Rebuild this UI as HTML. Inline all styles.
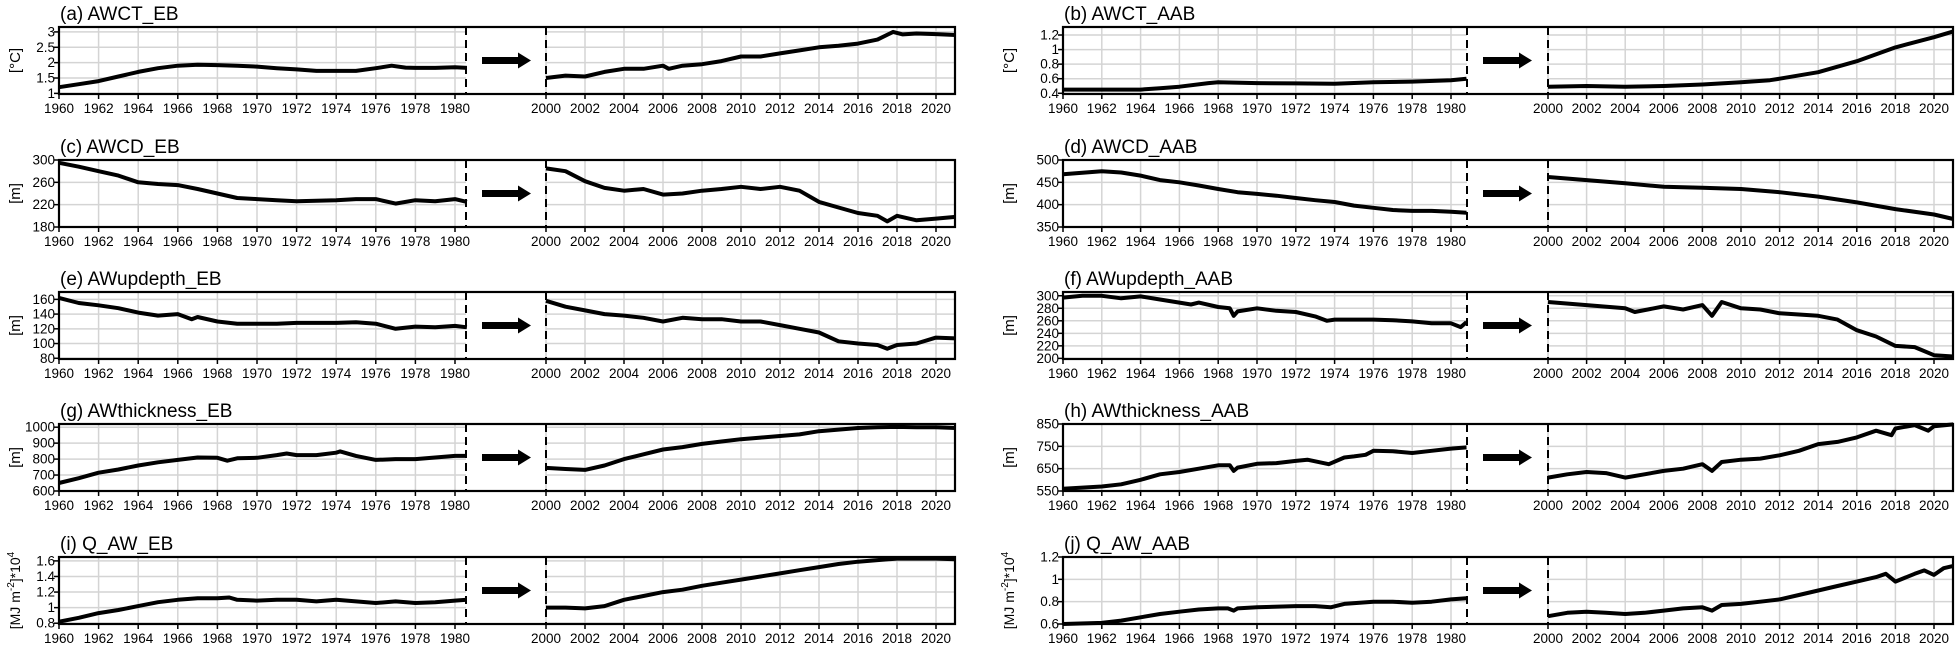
<!DOCTYPE html>
<html><head><meta charset="utf-8"><style>
html,body{margin:0;padding:0;background:#fff;}
svg{display:block;font-family:"Liberation Sans",Arial,sans-serif;}
</style></head><body>
<svg id="fig" width="1956" height="646" viewBox="0 0 1956 646"></svg>
<script>
// ---- data ----
const titles=["(a) AWCT_EB","(b) AWCT_AAB","(c) AWCD_EB","(d) AWCD_AAB","(e) AWupdepth_EB","(f) AWupdepth_AAB","(g) AWthickness_EB","(h) AWthickness_AAB","(i) Q_AW_EB","(j) Q_AW_AAB"];
const yTicks=[[1,1.5,2,2.5,3],[0.4,0.6,0.8,1,1.2],[180,220,260,300],[350,400,450,500],[80,100,120,140,160],[200,220,240,260,280,300],[600,700,800,900,1000],[550,650,750,850],[0.8,1,1.2,1.4,1.6],[0.6,0.8,1,1.2]];
const yMin=[0.98,0.39,180,350,79,199,600,550,0.79,0.6];
const yMax=[3.16,1.31,300,500,170,306,1020,850,1.65,1.2];
const xTicksLeft=[1960,1962,1964,1966,1968,1970,1972,1974,1976,1978,1980];
const xTicksRight=[2000,2002,2004,2006,2008,2010,2012,2014,2016,2018,2020];

const yrsA1=[1960,1961,1962,1963,1964,1965,1966,1967,1968,1969,1970,1971,1972,1973,1974,1975,1976,1976.8,1977.5,1978,1979,1980,1980.6];
const valA1=[1.2,1.3,1.4,1.55,1.7,1.82,1.9,1.93,1.92,1.9,1.87,1.82,1.78,1.73,1.73,1.73,1.82,1.9,1.84,1.83,1.83,1.85,1.83];
const yrsA2=[2000,2001,2002,2003,2004,2005,2006,2006.3,2007,2008,2009,2010,2011,2012,2013,2014,2015,2016,2017,2017.8,2018.3,2019,2020,2021];
const valA2=[1.5,1.58,1.55,1.7,1.8,1.8,1.9,1.8,1.9,1.95,2.05,2.2,2.2,2.3,2.4,2.5,2.55,2.62,2.75,3.0,2.92,2.95,2.93,2.9];

const yrsB1=[1960,1962,1964,1965,1966,1967.5,1968,1970,1972,1974,1976,1978,1980,1980.8];
const valB1=[0.45,0.45,0.45,0.47,0.49,0.54,0.55,0.54,0.535,0.53,0.55,0.56,0.58,0.6];
const yrsB2=[2000,2002,2004,2006,2008,2010,2011.5,2012,2014,2016,2018,2020,2021];
const valB2=[0.49,0.5,0.49,0.5,0.52,0.55,0.58,0.6,0.69,0.84,1.03,1.17,1.25];

const yrsC1=[1960,1961,1962,1963,1964,1965,1966,1967,1968,1969,1970,1971,1972,1973,1974,1975,1976,1977,1978,1979,1980,1980.6];
const valC1=[295,288,280,272,260,257,255,248,240,232,230,228,226,227,228,230,230,222,228,226,230,225];
const yrsC2=[2000,2001,2002,2003,2004,2005,2006,2007,2008,2009,2010,2011,2012,2013,2014,2015,2016,2017,2017.5,2018,2019,2020,2021];
const valC2=[285,280,262,250,245,248,238,240,245,248,252,248,252,245,225,215,205,200,190,200,192,195,198];

const yrsD1=[1960,1962,1963,1964,1965,1966,1967,1968,1969,1970,1971,1972,1973,1974,1975,1976,1977,1978,1979,1980,1980.8];
const valD1=[468,475,472,465,455,450,443,435,428,424,420,415,410,406,398,393,388,386,386,384,382];
const yrsD2=[2000,2002,2004,2006,2008,2010,2012,2014,2016,2018,2020,2021];
const valD2=[462,455,448,440,438,435,428,418,405,390,378,368];

const yrsE1=[1960,1961,1962,1963,1964,1965,1966,1966.7,1967,1968,1969,1970,1971,1972,1973,1974,1975,1976,1977,1978,1979,1980,1980.6];
const valE1=[162,155,152,148,142,138,140,133,136,130,127,127,127,128,128,128,129,127,120,123,122,124,122];
const yrsE2=[2000,2001,2002,2003,2004,2005,2006,2007,2008,2009,2010,2011,2012,2013,2014,2015,2016,2017,2017.5,2018,2019,2020,2021];
const valE2=[158,150,145,140,138,135,130,135,133,133,130,130,125,120,115,103,100,98,93,98,100,108,107];

const yrsF1=[1960,1961,1962,1963,1964,1965,1966,1966.6,1967,1968,1968.6,1968.8,1969,1970,1971,1972,1973,1973.6,1974,1975,1976,1977,1978,1979,1980,1980.5,1980.8];
const valF1=[297,300,300,296,299,294,289,286,289,282,280,268,275,280,276,274,267,260,262,262,262,261,259,256,256,250,258];
const yrsF2=[2000,2002,2004,2004.5,2006,2007,2008,2008.5,2009,2010,2011,2012,2013,2014,2015,2016,2017,2018,2019,2020,2021];
const valF2=[290,285,280,274,283,278,285,268,290,280,278,272,270,268,262,245,235,220,218,205,203];

const yrsG1=[1960,1961,1962,1963,1964,1965,1966,1967,1968,1968.5,1969,1970,1971,1971.5,1972,1973,1974,1974.2,1975,1976,1977,1978,1979,1980,1980.6];
const valG1=[650,680,715,735,760,780,795,810,808,790,805,808,825,835,825,825,840,848,820,795,800,800,810,820,820];
const yrsG2=[2000,2001,2002,2003,2004,2005,2006,2007,2008,2009,2010,2011,2012,2013,2014,2015,2016,2017,2018,2019,2020,2021];
const valG2=[745,738,732,760,800,830,860,875,895,910,925,935,945,955,975,985,995,1000,1002,1000,1000,995];

const yrsH1=[1960,1962,1963,1964,1965,1966,1967,1968,1968.6,1968.8,1969,1970,1971,1972,1972.6,1973.7,1974.5,1975,1975.6,1976,1977,1978,1979,1980,1980.8];
const valH1=[560,570,580,600,625,635,650,665,665,640,655,672,675,685,690,670,700,705,712,730,728,720,730,740,745];
const yrsH2=[2000,2001,2002,2003,2004,2005,2006,2007,2008,2008.5,2009,2010,2011,2012,2013,2014,2015,2016,2017,2017.8,2018,2019,2019.7,2020,2021];
const valH2=[610,625,635,630,610,625,640,650,670,640,680,690,695,710,730,760,770,790,820,800,830,845,820,840,848];

const yrsI1=[1960,1961,1962,1963,1964,1965,1966,1967,1968,1968.6,1969,1970,1971,1972,1973,1974,1975,1976,1977,1978,1979,1980,1980.6];
const valI1=[0.82,0.87,0.93,0.97,1.02,1.07,1.1,1.12,1.12,1.13,1.1,1.09,1.1,1.1,1.08,1.1,1.08,1.06,1.08,1.06,1.07,1.09,1.1];
const yrsI2=[2000,2001,2002,2003,2004,2005,2006,2007,2008,2009,2010,2011,2012,2013,2014,2015,2016,2017,2018,2019,2020,2021];
const valI2=[1.0,1.0,0.99,1.02,1.1,1.15,1.2,1.23,1.28,1.32,1.36,1.4,1.44,1.48,1.52,1.56,1.59,1.61,1.63,1.63,1.63,1.62];

const yrsJ1=[1960,1962,1963,1964,1965,1966,1967,1968,1968.5,1968.8,1969,1970,1972,1973,1973.8,1974.5,1976,1977,1978,1979,1980,1980.8];
const valJ1=[0.6,0.61,0.63,0.66,0.69,0.71,0.73,0.74,0.74,0.72,0.74,0.75,0.76,0.76,0.75,0.78,0.8,0.8,0.79,0.8,0.82,0.83];
const yrsJ2=[2000,2001,2002,2003,2004,2005,2006,2007,2008,2008.5,2009,2010,2011,2012,2013,2014,2015,2016,2017,2017.5,2018,2019,2019.5,2020,2020.5,2021];
const valJ2=[0.67,0.7,0.71,0.7,0.69,0.7,0.72,0.74,0.75,0.72,0.77,0.78,0.8,0.82,0.86,0.9,0.94,0.98,1.02,1.05,0.98,1.05,1.08,1.04,1.1,1.12];

const seg1Years=[yrsA1,yrsB1,yrsC1,yrsD1,yrsE1,yrsF1,yrsG1,yrsH1,yrsI1,yrsJ1];
const seg1Vals=[valA1,valB1,valC1,valD1,valE1,valF1,valG1,valH1,valI1,valJ1];
const seg2Years=[yrsA2,yrsB2,yrsC2,yrsD2,yrsE2,yrsF2,yrsG2,yrsH2,yrsI2,yrsJ2];
const seg2Vals=[valA2,valB2,valC2,valD2,valE2,valF2,valG2,valH2,valI2,valJ2];

// ---- layout ----
const NS="http://www.w3.org/2000/svg";
const svg=document.getElementById('fig');
const rowTop=[27,160,292,424,557];
const H=67;
const cols=[{x0:59,sL:19.8,dash:466,x2:546,sR:19.5,right:955,ylab:20,tickx:55},
            {x0:1063,sL:19.4,dash:1467,x2:1548,sR:19.3,right:1953,ylab:1014,tickx:1059}];
function el(tag,attrs,parent){const e=document.createElementNS(NS,tag);for(const k in attrs)e.setAttribute(k,attrs[k]);(parent||svg).appendChild(e);return e;}

for(let p=0;p<10;p++){
  const c=cols[p%2], top=rowTop[Math.floor(p/2)], bot=top+H;
  const g=el('g',{});
  
  
  const xL=y=>c.x0+(y-1960)*c.sL;
  const xR=y=>c.x2+(y-2000)*c.sR;
  const yS=v=>bot-(v-yMin[p])/(yMax[p]-yMin[p])*H;
  // title
  const t=el('text',{x:c.x0+1,y:top-7,'font-size':19,fill:'#000'},g);t.textContent=titles[p];
  
  // grids
  for(const v of yTicks[p]){const yy=yS(v);
    el('line',{x1:c.x0,x2:c.dash,y1:yy,y2:yy,stroke:'#d4d4d4','stroke-width':1.5},g);
    el('line',{x1:c.x2,x2:c.right,y1:yy,y2:yy,stroke:'#d4d4d4','stroke-width':1.5},g);
    el('line',{x1:c.x0-5,x2:c.x0,y1:yy,y2:yy,stroke:'#000','stroke-width':1.5},g);
    const tl=el('text',{x:c.tickx,y:yy+4.5,'font-size':13.5,'text-anchor':'end'},g);tl.textContent=v;
    
  }
  xTicksLeft.forEach(yr=>{const xx=xL(yr);
    el('line',{x1:xx,x2:xx,y1:top,y2:bot,stroke:'#d4d4d4','stroke-width':1.5},g);
    el('line',{x1:xx,x2:xx,y1:bot,y2:bot+5,stroke:'#000','stroke-width':1.5},g);
    const tl=el('text',{x:xx,y:bot+19,'font-size':13.5,'text-anchor':'middle'},g);tl.textContent=yr;
    });
  xTicksRight.forEach(yr=>{const xx=xR(yr);
    el('line',{x1:xx,x2:xx,y1:top,y2:bot,stroke:'#d4d4d4','stroke-width':1.5},g);
    el('line',{x1:xx,x2:xx,y1:bot,y2:bot+5,stroke:'#000','stroke-width':1.5},g);
    const tl=el('text',{x:xx,y:bot+19,'font-size':13.5,'text-anchor':'middle'},g);tl.textContent=yr;
    });
  // frame
  el('rect',{x:c.x0,y:top,width:c.right-c.x0,height:H,fill:'none',stroke:'#000','stroke-width':2.2},g);
  el('line',{x1:c.dash,x2:c.dash,y1:top,y2:bot,stroke:'#000','stroke-width':2,'stroke-dasharray':'8,5'},g);
  el('line',{x1:c.x2,x2:c.x2,y1:top,y2:bot,stroke:'#000','stroke-width':2,'stroke-dasharray':'8,5'},g);
  // arrow
  const my=top+H/2, ax=c.dash+16;
  const ar=el('polygon',{points:`${ax},${my-3.5} ${ax+36},${my-3.5} ${ax+36},${my-8} ${ax+49},${my} ${ax+36},${my+8} ${ax+36},${my+3.5} ${ax},${my+3.5}`,fill:'#000'},g);
  
  // y label
  const yl=el('text',{transform:`translate(${c.ylab},${top+H/2}) rotate(-90)`,'font-size':15,'text-anchor':'middle'},g);
  
  if(p<2){yl.textContent='[°C]';}
  else if(p<8){yl.textContent='[m]';}
  else{yl.setAttribute('font-size',14);
    yl.innerHTML='[MJ m<tspan dy="-6" font-size="10">-2</tspan><tspan dy="6">]*10</tspan><tspan dy="-6" font-size="10">4</tspan>';}
  // series
  const d1=seg1Years[p].map((yr,i)=>(i?'L':'M')+xL(yr).toFixed(1)+','+yS(seg1Vals[p][i]).toFixed(1)).join('');
  const d2=seg2Years[p].map((yr,i)=>(i?'L':'M')+xR(yr).toFixed(1)+','+yS(seg2Vals[p][i]).toFixed(1)).join('');
  const l1=el('path',{d:d1,fill:'none',stroke:'#000','stroke-width':4,'stroke-linejoin':'round'},g);
  
  const l2=el('path',{d:d2,fill:'none',stroke:'#000','stroke-width':4,'stroke-linejoin':'round'},g);
  
}
</script>
</body></html>
